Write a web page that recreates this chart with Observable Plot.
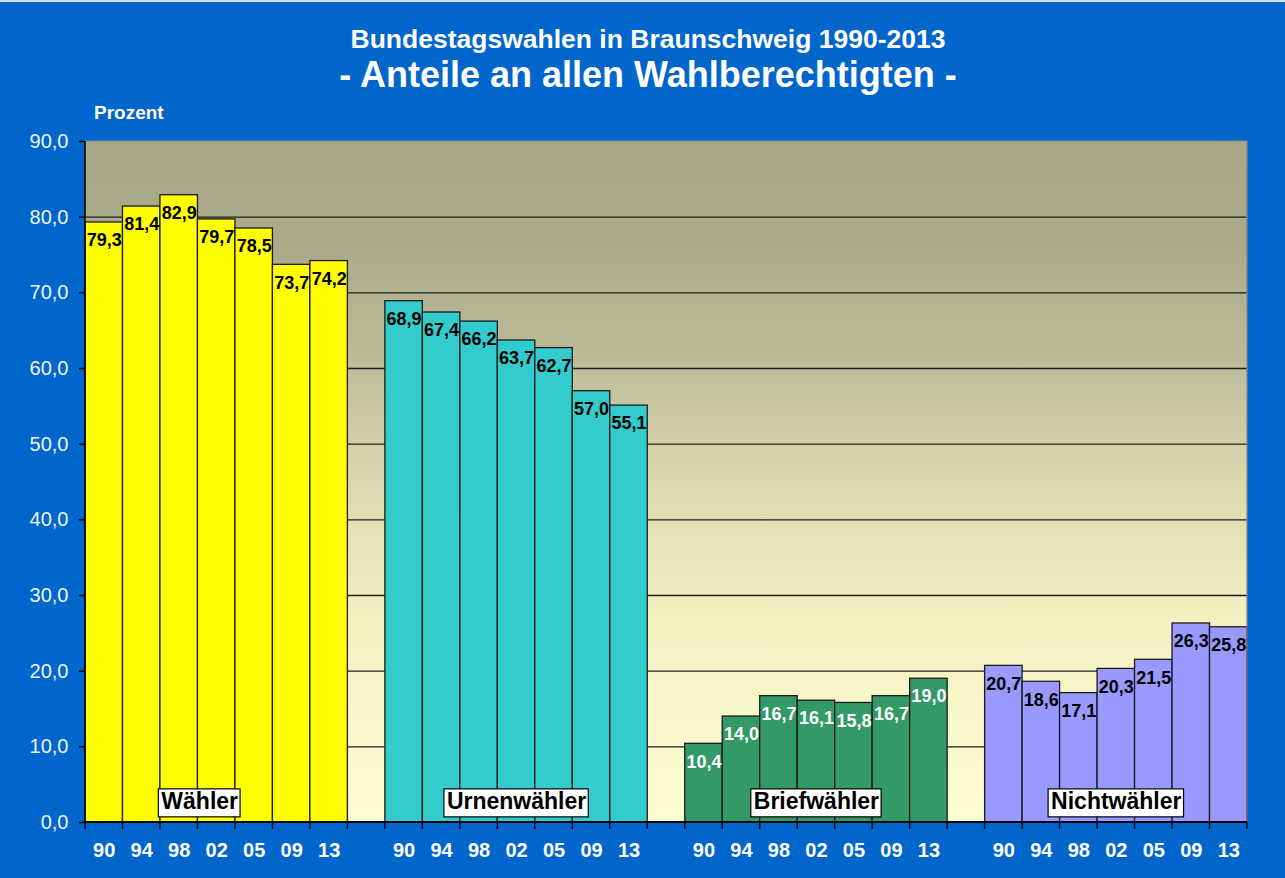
<!DOCTYPE html>
<html>
<head>
<meta charset="utf-8">
<script src="https://cdn.jsdelivr.net/npm/d3@7"></script>
<script src="https://cdn.jsdelivr.net/npm/@observablehq/plot@0.6"></script>
<style>
  body { margin: 0; background: #ffffff; }
  #wrap { position: relative; width: 1285px; height: 878px; background: #0066cc; overflow: hidden;
          font-family: "Liberation Sans", Arial, sans-serif; }
  #topline { position: absolute; left: 0; top: 0; width: 1285px; height: 2px; background: #d4e0f1; }
  .hd { position: absolute; left: 0; width: 1296px; text-align: center; color: #ffffff; font-weight: bold; white-space: nowrap; }
  #t1 { top: 26px; font-size: 26.5px; line-height: 26px; }
  #t2 { top: 57px; font-size: 36px; line-height: 36px; }
  #unit { position: absolute; left: 94px; top: 103px; font-size: 19px; line-height: 19px; color: #ffffff; font-weight: bold; }
  #chart { position: absolute; left: 0; top: 100px; }
</style>
</head>
<body>
<div id="wrap">
  <div id="topline"></div>
  <div id="t1" class="hd">Bundestagswahlen in Braunschweig 1990-2013</div>
  <div id="t2" class="hd">- Anteile an allen Wahlberechtigten -</div>
  <div id="unit">Prozent</div>
  <div id="chart"></div>
</div>
<script>
// ---- data ----
const years = ["90", "94", "98", "02", "05", "09", "13"];
const groups = ["Wähler", "Urnenwähler", "Briefwähler", "Nichtwähler"];
const waehler = [79.3, 81.4, 82.9, 79.7, 78.5, 73.7, 74.2];
const urnenwaehler = [68.9, 67.4, 66.2, 63.7, 62.7, 57.0, 55.1];
const briefwaehler = [10.4, 14.0, 16.7, 16.1, 15.8, 16.7, 19.0];
const nichtwaehler = [20.7, 18.6, 17.1, 20.3, 21.5, 26.3, 25.8];
const yTicks = [0, 10, 20, 30, 40, 50, 60, 70, 80, 90];
const gridValues = [10, 20, 30, 40, 50, 60, 70, 80];
const groupColors = ["#ffff00", "#33cccc", "#339966", "#9999ff"];

const series = [waehler, urnenwaehler, briefwaehler, nichtwaehler];
const slots = [];
groups.forEach((g, gi) => {
  years.forEach(y => slots.push(`${g}|${y}`));
  if (gi < groups.length - 1) slots.push(`gap${gi}`);
});
const rows = groups.flatMap((g, gi) => years.map((y, yi) => ({
  slot: `${g}|${y}`, group: g, year: y, value: series[gi][yi]
})));
const dataSlots = rows.map(d => d.slot);
const fmt = v => v.toFixed(1).replace(".", ",");
const labelRows = groups.map(g => ({group: g, slot: `${g}|02`}));

// ---- custom render pieces ----
const stops = [
  [0, "#a8a788"], [0.16, "#abaa8b"], [0.29, "#b9b896"], [0.39, "#c8c7a2"],
  [0.49, "#d8d7ae"], [0.63, "#ebe9bb"], [0.71, "#f3f1c2"], [1, "#fffdd2"]
];
function background(index, scales, values, dim) {
  const g = d3.create("svg:g");
  const lg = g.append("defs").append("linearGradient")
    .attr("id", "bgGrad").attr("x1", 0).attr("y1", 0).attr("x2", 0).attr("y2", 1);
  stops.forEach(([o, c]) => lg.append("stop").attr("offset", o).attr("stop-color", c));
  g.append("rect")
    .attr("x", dim.marginLeft).attr("y", dim.marginTop)
    .attr("width", dim.width - dim.marginLeft - dim.marginRight)
    .attr("height", dim.height - dim.marginTop - dim.marginBottom)
    .attr("fill", "url(#bgGrad)");
  return g.node();
}
function overlay(index, scales, values, dim) {
  const g = d3.create("svg:g");
  const x0 = dim.marginLeft, x1 = dim.width - dim.marginRight;
  const y0 = dim.marginTop, y1 = dim.height - dim.marginBottom;
  g.append("path").attr("d", `M${x0},${y0}H${x1}V${y1}`)
    .attr("fill", "none").attr("stroke", "#868686").attr("stroke-width", 1.2);
  g.append("line").attr("x1", x0).attr("x2", x0).attr("y1", y0).attr("y2", y1)
    .attr("stroke", "#000").attr("stroke-width", 1.5);
  const bw = scales.x.bandwidth();
  const bounds = slots.map(s => scales.x(s)).concat([scales.x(slots[slots.length - 1]) + bw]);
  bounds.forEach(b => g.append("line").attr("x1", b).attr("x2", b).attr("y1", y1).attr("y2", y1 + 7)
    .attr("stroke", "#000").attr("stroke-width", 1.5));
  g.append("line").attr("x1", x0).attr("x2", x1).attr("y1", y1).attr("y2", y1)
    .attr("stroke", "#000").attr("stroke-width", 2.2);
  return g.node();
}

const plot = Plot.plot({
  width: 1285,
  height: 778,
  marginTop: 41,
  marginBottom: 56,
  marginLeft: 85,
  marginRight: 38,
  style: {background: "transparent", fontFamily: "'Liberation Sans', Arial, sans-serif", overflow: "visible"},
  x: {type: "band", domain: slots, padding: 0, round: false, axis: null},
  y: {domain: [0, 90], axis: null},
  color: {type: "ordinal", domain: groups, range: groupColors},
  marks: [
    background,
    Plot.ruleY(gridValues, {stroke: "#1e1e1e", strokeWidth: 1.4}),
    Plot.barY(rows, {x: "slot", y: "value", fill: "group", stroke: "#1a1a1a", strokeWidth: 1.3}),
    Plot.text(rows.filter(d => d.group !== "Briefwähler"), {
      x: "slot", y: "value", text: d => fmt(d.value), fill: "#000",
      lineAnchor: "middle", dy: 18, fontSize: 18, fontWeight: "bold"
    }),
    Plot.text(rows.filter(d => d.group === "Briefwähler"), {
      x: "slot", y: "value", text: d => fmt(d.value), fill: "#ffffff",
      lineAnchor: "middle", dy: 18, fontSize: 18, fontWeight: "bold"
    }),
    Plot.text(labelRows.filter(d => d.group === "Wähler"), {
      x: "slot", y: () => 0, text: "group", fill: "#000", dx: -17, dy: -21,
      lineAnchor: "middle", fontSize: 23, fontWeight: "bold", ariaDescription: "grouplabels"
    }),
    Plot.text(labelRows.filter(d => d.group !== "Wähler"), {
      x: "slot", y: () => 0, text: "group", fill: "#000", dy: -21,
      lineAnchor: "middle", fontSize: 23, fontWeight: "bold", ariaDescription: "grouplabels"
    }),
    overlay,
    Plot.axisY({
      ticks: yTicks, tickFormat: fmt, tickSize: 6, tickPadding: 11,
      stroke: "#000", strokeWidth: 1.5, fill: "#eef2fa", fontSize: 20, label: null
    }),
    Plot.axisX({
      ticks: dataSlots, tickFormat: d => d.split("|")[1], tickSize: 0, tickPadding: 20,
      fill: "#ffffff", fontSize: 20, fontWeight: "bold", label: null
    })
  ]
});
document.getElementById("chart").append(plot);

// white boxes behind the group labels, sized from the rendered text
plot.querySelectorAll('g[aria-description="grouplabels"] text').forEach(t => {
  const b = t.getBBox();
  const r = document.createElementNS("http://www.w3.org/2000/svg", "rect");
  r.setAttribute("x", b.x - 3);
  r.setAttribute("y", b.y + 1);
  r.setAttribute("width", b.width + 5);
  r.setAttribute("height", b.height + 2);
  r.setAttribute("fill", "#ffffff");
  r.setAttribute("stroke", "#000");
  r.setAttribute("stroke-width", 1.2);
  if (t.getAttribute("transform")) r.setAttribute("transform", t.getAttribute("transform"));
  t.parentNode.insertBefore(r, t);
});
</script>
</body>
</html>
